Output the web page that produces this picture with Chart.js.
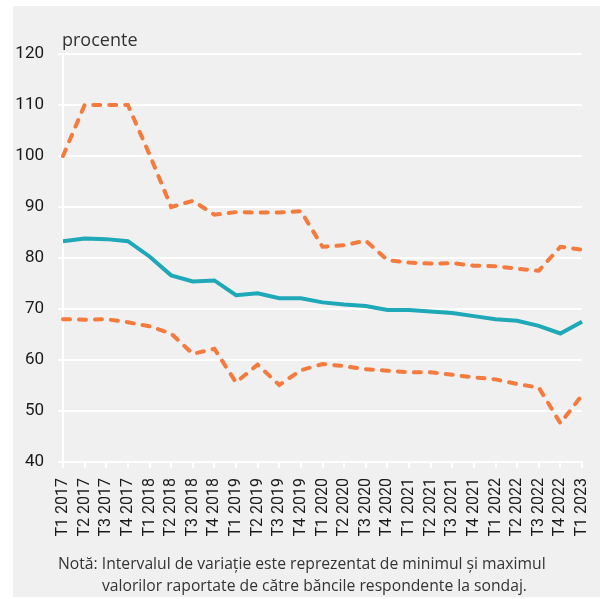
<!DOCTYPE html>
<html>
<head>
<meta charset="utf-8">
<script src="https://cdn.jsdelivr.net/npm/chart.js@4"></script>
<style>
  body { margin: 0; background: #fff; }
  #wrap { position: relative; width: 600px; height: 599px; }
  #bg { position: absolute; left: 13px; top: 6px; width: 587px; height: 591px; background: #f0f0f0; }
  #chart { position: absolute; left: 0; top: 0; }
  .unit { position: absolute; left: 62px; top: 27px; font: 18px 'Open Sans', sans-serif; color: #333; }
  .note { position: absolute; font: 15.7px 'Open Sans', sans-serif; color: #333; white-space: nowrap; }
</style>
</head>
<body>
<div id="wrap">
  <div id="bg"></div>
  <canvas id="chart" width="600" height="599"></canvas>
  <div class="unit">procente</div>
  <div class="note" style="left:58px; top:552px;">Notă: Intervalul de variație este reprezentat de minimul și maximul</div>
  <div class="note" style="left:102px; top:574px;">valorilor raportate de către băncile respondente la sondaj.</div>
</div>
<script>
const quarters = [
  'T1 2017', 'T2 2017', 'T3 2017', 'T4 2017',
  'T1 2018', 'T2 2018', 'T3 2018', 'T4 2018',
  'T1 2019', 'T2 2019', 'T3 2019', 'T4 2019',
  'T1 2020', 'T2 2020', 'T3 2020', 'T4 2020',
  'T1 2021', 'T2 2021', 'T3 2021', 'T4 2021',
  'T1 2022', 'T2 2022', 'T3 2022', 'T4 2022',
  'T1 2023'
];

// maximul raportat
const maxValues = [
  100.0, 110.0, 110.0, 110.0, 100.3, 90.0, 91.2, 88.5,
  89.0, 88.9, 88.9, 89.2, 82.2, 82.5, 83.4, 79.6,
  79.1, 78.9, 79.0, 78.5, 78.4, 77.9, 77.5, 82.2,
  81.6
];

// media
const avgValues = [
  83.3, 83.8, 83.7, 83.3, 80.3, 76.6, 75.4, 75.6,
  72.7, 73.1, 72.1, 72.1, 71.3, 70.9, 70.6, 69.8,
  69.8, 69.5, 69.2, 68.6, 68.0, 67.7, 66.7, 65.2,
  67.5
];

// minimul raportat
const minValues = [
  68.0, 67.9, 68.0, 67.4, 66.6, 65.2, 61.2, 62.2,
  55.6, 59.1, 55.1, 58.0, 59.2, 58.8, 58.2, 57.9,
  57.6, 57.6, 57.1, 56.6, 56.2, 55.3, 54.6, 47.6,
  53.1
];

const yTicks = [40, 50, 60, 70, 80, 90, 100, 110, 120];

const orange = '#f47a3d';
const teal = '#1fa8b7';
const tickFont = 'Roboto, sans-serif';

const dashed = {
  borderColor: orange,
  borderWidth: 4,
  borderDash: [7, 9],
  borderCapStyle: 'round',
  pointRadius: 0,
  tension: 0,
  fill: false,
};

const ctx = document.getElementById('chart');
new Chart(ctx, {
  type: 'line',
  data: {
    labels: quarters,
    datasets: [
      { ...dashed, label: 'Maxim', data: maxValues },
      { label: 'Medie', data: avgValues, borderColor: teal, borderWidth: 4, pointRadius: 0, tension: 0, fill: false },
      { ...dashed, label: 'Minim', data: minValues },
    ],
  },
  options: {
    responsive: false,
    animation: false,
    layout: { padding: { top: 54, right: 18, left: 0, bottom: 0 } },
    plugins: { legend: { display: false }, tooltip: { enabled: false } },
    scales: {
      x: {
        afterFit: (s) => { s.height = 137; s.paddingLeft = 0; s.paddingRight = 0; },
        grid: { drawOnChartArea: false, color: '#ffffff', lineWidth: 2, tickLength: 6 },
        border: { color: '#ffffff', width: 2 },
        ticks: {
          autoSkip: false, minRotation: 90, maxRotation: 90, padding: 10,
          color: '#1a1a1a', font: { family: tickFont, size: 16 },
        },
      },
      y: {
        min: 40,
        max: 120,
        afterFit: (s) => { s.width = 63; s.paddingTop = 0; s.paddingBottom = 0; },
        afterBuildTicks: (s) => { s.ticks = yTicks.map(v => ({ value: v })); },
        grid: { color: '#ffffff', lineWidth: 2, tickLength: 5 },
        border: { color: '#ffffff', width: 2 },
        ticks: { padding: 14, color: '#1a1a1a', font: { family: tickFont, size: 17 } },
      },
    },
  },
});
</script>
</body>
</html>
